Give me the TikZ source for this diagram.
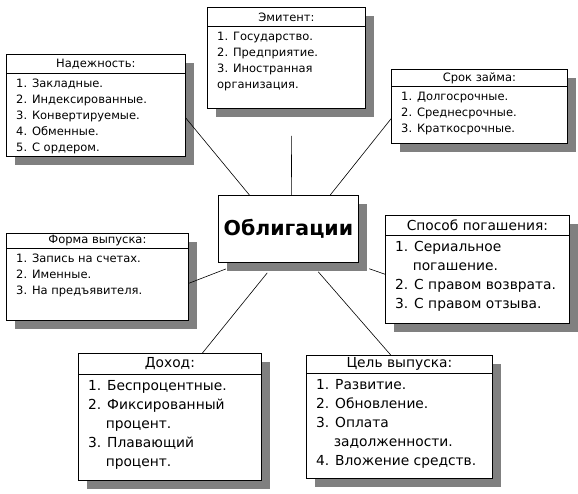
\documentclass[tikz,border=0pt]{standalone}
\usepackage{fontspec}
\setmainfont{DejaVu Sans}
\usetikzlibrary{shadows}
\definecolor{boxshadow}{RGB}{128,128,128}

\begin{document}
\begin{tikzpicture}[
    x=1pt, y=-1pt,
    box/.style={
        draw, line width=0.8pt, fill=white, anchor=north west,
        drop shadow={shadow xshift=9pt, shadow yshift=-9pt,
            fill=boxshadow, opacity=1},
    },
    head/.style={
        draw, line width=0.8pt, anchor=north, inner sep=0pt,
    },
    items/.style={
        anchor=north west, align=left, inner xsep=10pt, inner ysep=5pt,
    },
    small/.style={font=\fontsize{11.5}{16}\selectfont},
    large/.style={font=\fontsize{13.8}{19}\selectfont},
    link/.style={line width=0.6pt},
    ]
    \useasboundingbox (0,0) rectangle (578,494);

    \node [box, name=obl, at={(218,195)}, minimum width=140pt, minimum height=67pt,
        font=\bfseries\fontsize{20.5}{24}\selectfont] {Облигации};

    % small boxes
    \node [box, name=nad, at={(6,54)}, minimum width=179pt, minimum height=102pt] {};
    \node [head, small, name=nad-h, at=(nad.north), minimum width=179pt, minimum height=19pt] {Надежность:};
    \node [items, small, name=nad-l, at=(nad-h.south west)]
        {1. Закладные.\\2. Индексированные.\\3. Конвертируемые.\\4. Обменные.\\5. С ордером.};

    \node [box, name=emit, at={(207,7)}, minimum width=158pt, minimum height=101pt] {};
    \node [head, small, name=emit-h, at=(emit.north), minimum width=158pt, minimum height=19pt] {Эмитент:};
    \node [items, small, name=emit-l, at=(emit-h.south west)]
        {1. Государство.\\2. Предприятие.\\3. Иностранная\\организация.};

    \node [box, name=srok, at={(391,69)}, minimum width=176pt, minimum height=74pt] {};
    \node [head, small, name=srok-h, at=(srok.north), minimum width=176pt, minimum height=17pt] {Срок займа:};
    \node [items, small, name=srok-l, at=(srok-h.south west)]
        {1. Долгосрочные.\\2. Среднесрочные.\\3. Краткосрочные.};

    \node [box, name=form, at={(6,233)}, minimum width=182pt, minimum height=87pt] {};
    \node [head, small, name=form-h, at=(form.north), minimum width=182pt, minimum height=15pt] {Форма выпуска:};
    \node [items, small, name=form-l, at=(form-h.south west)]
        {1. Запись на счетах.\\2. Именные.\\3. На предъявителя.};

    % large boxes
    \node [box, name=spos, at={(385,215)}, minimum width=184pt, minimum height=108pt] {};
    \node [head, large, name=spos-h, at=(spos.north), minimum width=184pt, minimum height=20pt] {Способ погашения:};
    \node [items, large, name=spos-l, at=(spos-h.south west)]
        {1. Сериальное\\\hphantom{1.~}погашение.\\2. С правом возврата.\\3. С правом отзыва.};

    \node [box, name=doh, at={(78,353)}, minimum width=183pt, minimum height=127pt] {};
    \node [head, large, name=doh-h, at=(doh.north), minimum width=183pt, minimum height=21pt] {Доход:};
    \node [items, large, name=doh-l, at=(doh-h.south west)]
        {1. Беспроцентные.\\2. Фиксированный\\\hphantom{2.~}процент.\\3. Плавающий\\\hphantom{3.~}процент.};

    \node [box, name=cel, at={(306,355)}, minimum width=186pt, minimum height=123pt] {};
    \node [head, large, name=cel-h, at=(cel.north), minimum width=186pt, minimum height=18pt] {Цель выпуска:};
    \node [items, large, name=cel-l, at=(cel-h.south west)]
        {1. Развитие.\\2. Обновление.\\3. Оплата\\\hphantom{3.~}задолженности.\\4. Вложение средств.};

    \draw [link] (nad.-8) -- (obl.139);
    \draw [link, shorten <=27pt] (emit.-84) -- (obl.85);
    \draw [link] (srok.188) -- (obl.39);
    \draw [link, shorten >=17pt] (form.-4) -- (obl.216);
    \draw [link, shorten >=18pt] (spos.183) -- (obl.-28);
    \draw [link, shorten >=13pt] (doh.63) -- (obl.249);
    \draw [link, shorten >=12pt] (cel.98) -- (obl.-57);
\end{tikzpicture}
\end{document}
